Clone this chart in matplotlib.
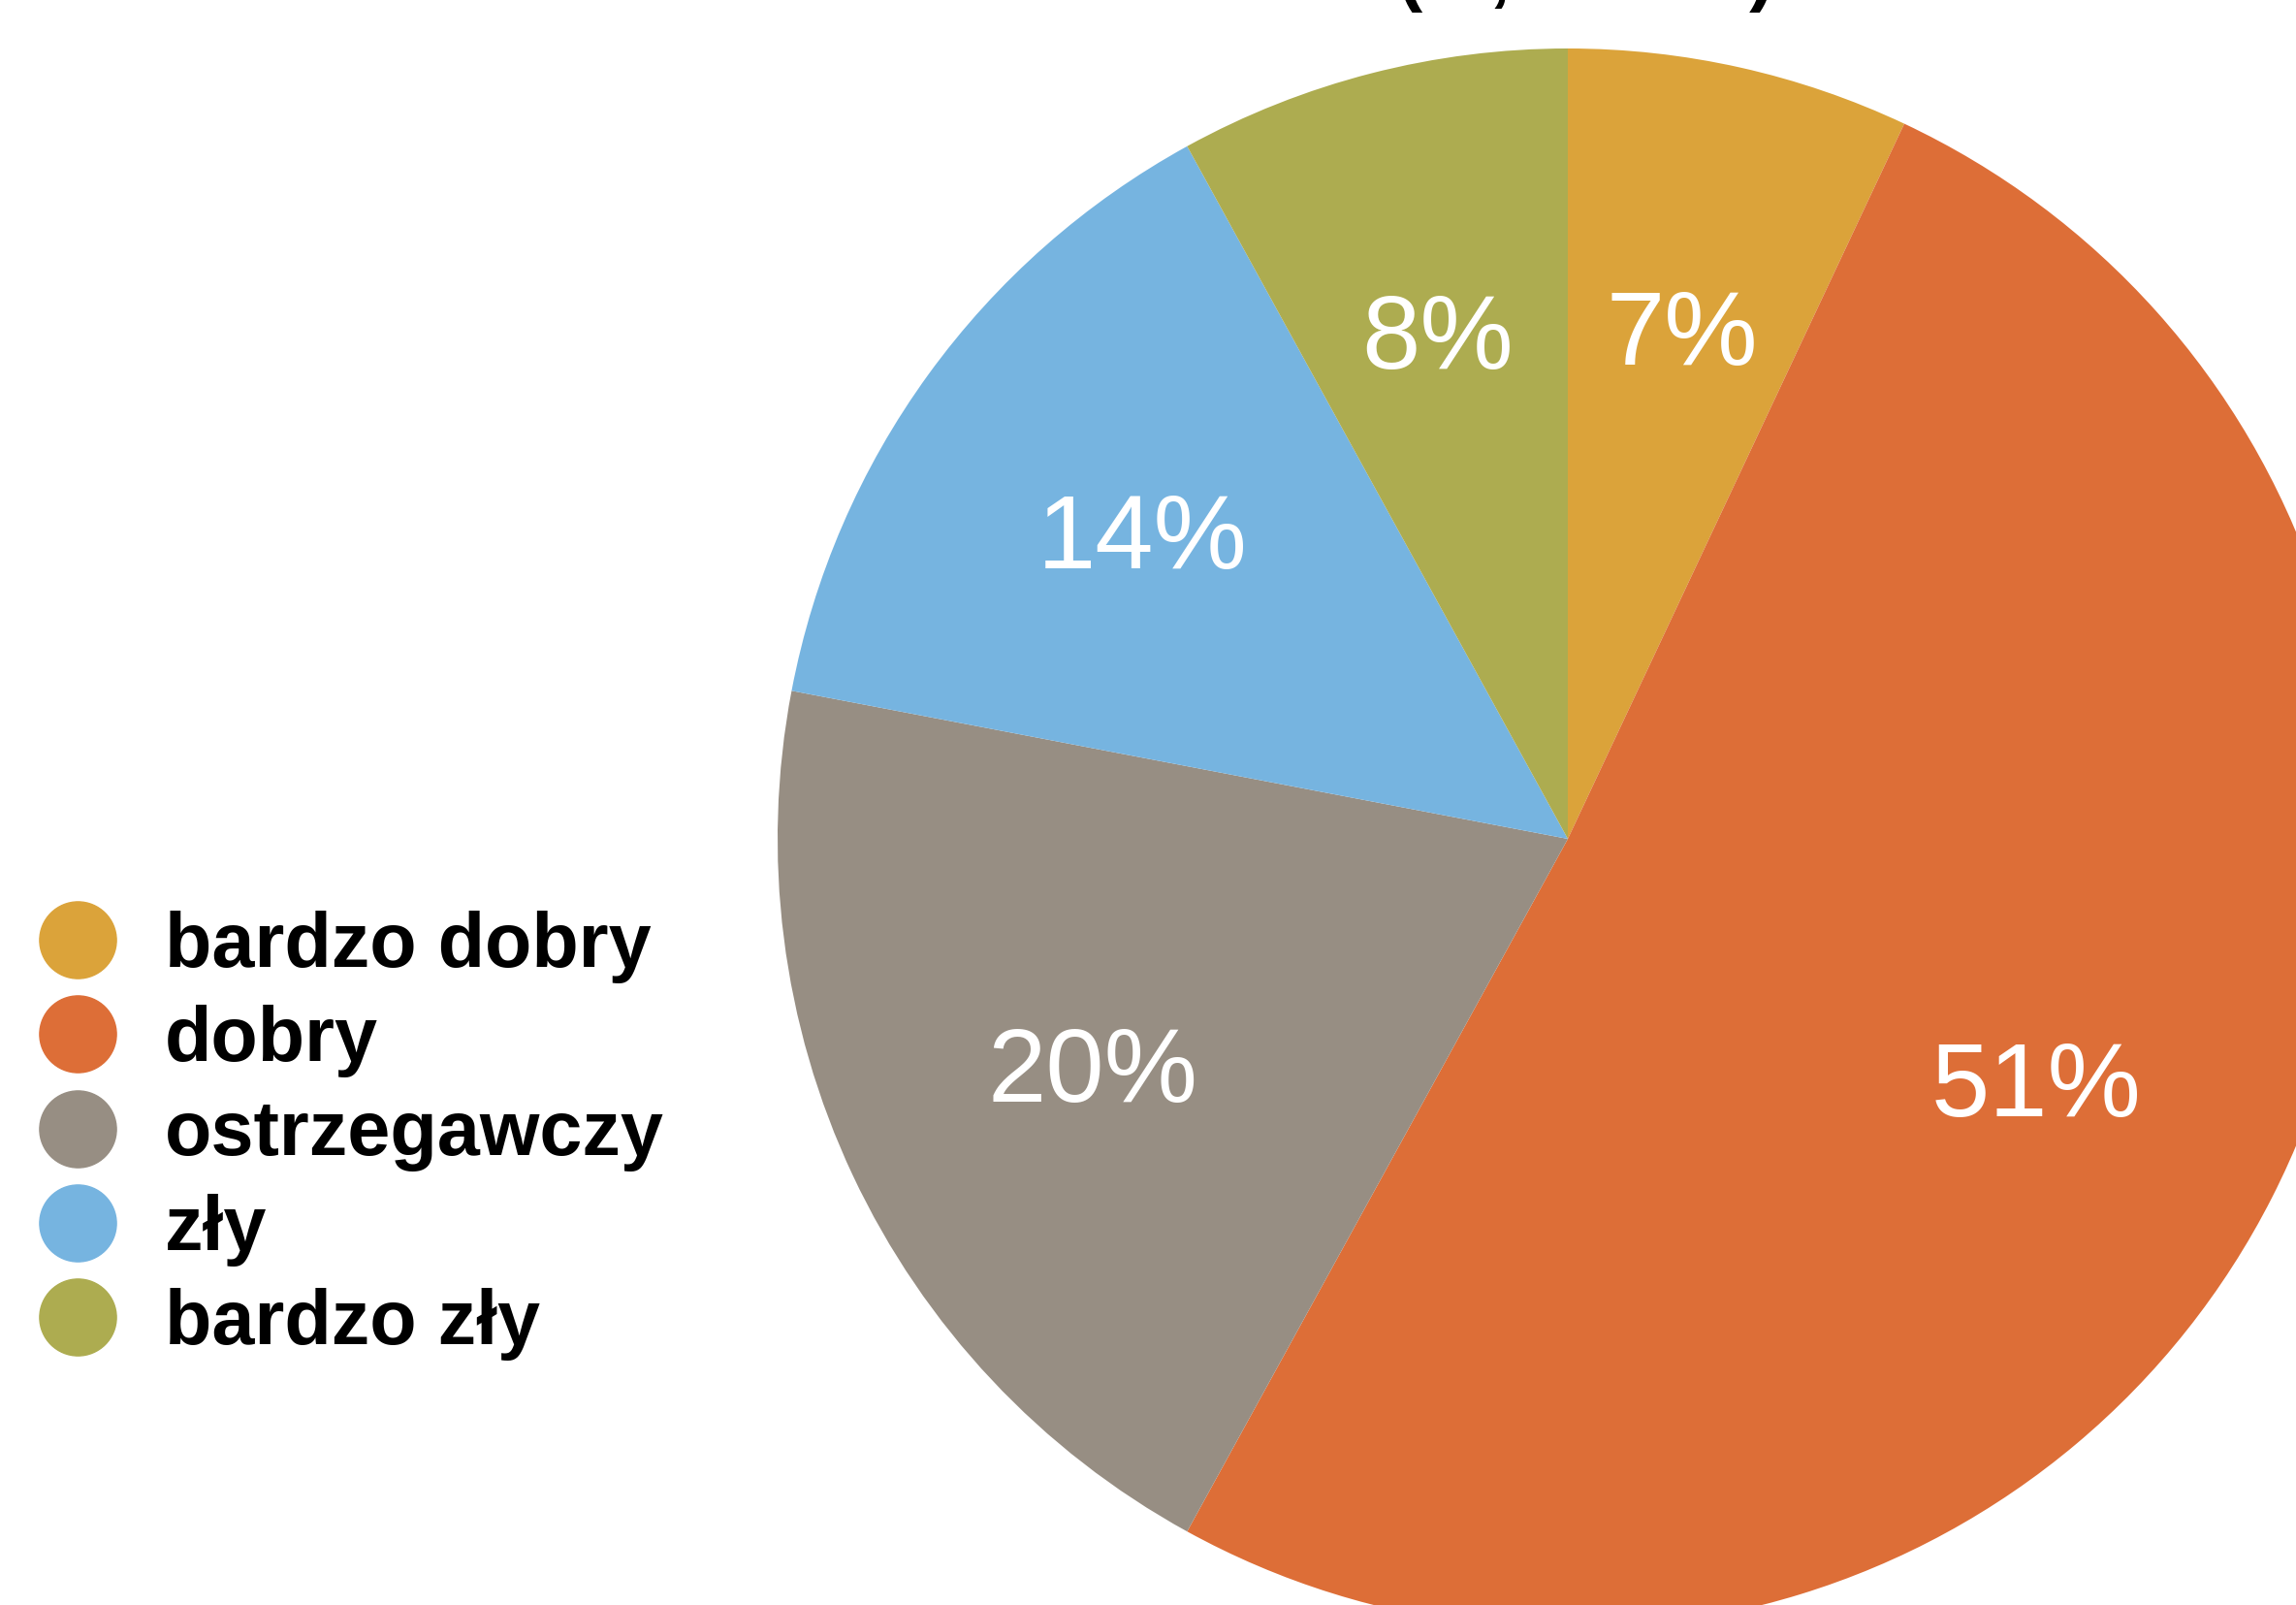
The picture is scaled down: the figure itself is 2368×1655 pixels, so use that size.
import matplotlib.pyplot as plt
from matplotlib.lines import Line2D

plt.rcParams['font.family'] = ['Liberation Sans', 'DejaVu Sans']

labels = ['bardzo dobry', 'dobry', 'ostrzegawczy', 'zły', 'bardzo zły']
values = [7, 51, 20, 14, 8]
colors = ['#DBA33A', '#DD6E37', '#978E83', '#76B4E0', '#ADAC50']
title = 'Rozkład ocen (%, razem)'

W, H = 2368, 1655
fig = plt.figure(figsize=(W / 100, H / 100), dpi=100)
ax = fig.add_axes([0, 0, 1, 1])

wedges, texts, autotexts = ax.pie(
    values, colors=colors, startangle=90, counterclock=False,
    center=(1617, H - 865), radius=815,
    autopct='%d%%', pctdistance=0.665,
    textprops={'color': 'white', 'fontsize': 78},
    frame=True,
)
for t in autotexts:
    x, y = t.get_position()
    t.set_position((x, y - 12))

ax.set_xlim(0, W)
ax.set_ylim(0, H)
ax.axis('off')

# title is mostly cut off by the top edge in the original
ax.text(1830, H + 3, title, ha='right', va='baseline', fontsize=56,
        fontweight='bold', color='black', clip_on=False)

handles = [Line2D([], [], marker='o', ls='', markersize=57, markerfacecolor=c,
                  markeredgecolor=c) for c in colors]
leg = ax.legend(handles, labels, loc='upper left', bbox_to_anchor=(40 / W, 1 - 939 / H),
                frameon=False, fontsize=57, handlelength=1.0, handletextpad=0.64,
                labelspacing=0.28, borderpad=0, borderaxespad=0)
for t in leg.get_texts():
    t.set_fontweight('bold')

fig.savefig('out.png', dpi=100)
